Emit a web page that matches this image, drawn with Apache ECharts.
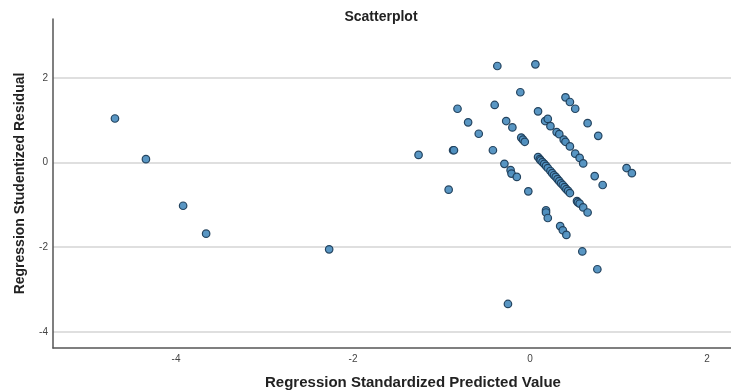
<!DOCTYPE html>
<html>
<head>
<meta charset="utf-8">
<script src="https://cdn.jsdelivr.net/npm/echarts@6/dist/echarts.min.js"></script>
<style>
  html, body { margin: 0; padding: 0; background: #fff; }
  #chart { width: 731px; height: 392px; }
</style>
</head>
<body>
<div id="chart"></div>
<script>
// standardized predicted value (x) / studentized residual (y)
const predicted = [
  -4.69, -4.34, -3.92, -3.66, -2.27,
  -1.26, -0.92, -0.87, -0.86, -0.82, -0.70, -0.58, -0.42, -0.40, -0.37,
  -0.29, -0.27, -0.25, -0.22, -0.21, -0.20, -0.15, -0.11, -0.10, -0.08, -0.06, -0.02,
  0.06, 0.09, 0.17, 0.18, 0.18, 0.20, 0.20, 0.23,
  0.09, 0.11, 0.12, 0.14, 0.16, 0.18, 0.20, 0.23, 0.25, 0.27, 0.29, 0.31,
  0.33, 0.35, 0.37, 0.39, 0.41, 0.43, 0.45,
  0.30, 0.33, 0.38, 0.40, 0.45, 0.34, 0.37, 0.41,
  0.40, 0.45, 0.51, 0.51, 0.56, 0.60,
  0.53, 0.54, 0.56, 0.60, 0.65, 0.59, 0.76,
  0.65, 0.77, 0.73, 0.82, 1.09, 1.15
];
const residual = [
  1.04, 0.08, -1.02, -1.68, -2.05,
  0.18, -0.64, 0.29, 0.29, 1.27, 0.95, 0.68, 0.29, 1.36, 2.28,
  -0.03, 0.98, -3.34, -0.18, -0.26, 0.83, -0.34, 1.66, 0.59, 0.54, 0.49, -0.68,
  2.32, 1.21, 0.98, -1.13, -1.18, 1.03, -1.31, 0.86,
  0.13, 0.08, 0.05, 0.01, -0.03, -0.08, -0.13, -0.20, -0.25, -0.30, -0.34, -0.39,
  -0.44, -0.49, -0.53, -0.58, -0.63, -0.67, -0.72,
  0.72, 0.67, 0.54, 0.49, 0.38, -1.50, -1.60, -1.71,
  1.54, 1.43, 1.27, 0.21, 0.11, -0.02,
  -0.91, -0.94, -0.97, -1.06, -1.18, -2.10, -2.52,
  0.93, 0.63, -0.32, -0.53, -0.13, -0.25
];
const xTicks = [-4, -2, 0, 2];
const yTicks = [-4, -2, 0, 2];

const chart = echarts.init(document.getElementById('chart'));

const font = 'Liberation Sans, Arial, sans-serif';

chart.setOption({
  animation: false,
  title: {
    text: 'Scatterplot',
    left: 376,
    top: 5,
    textAlign: 'center',
    textStyle: { fontFamily: font, fontSize: 14, fontWeight: 'bold', color: '#222' }
  },
  // keep the plot box fixed; don't let v6 shrink it to fit the axis names
  grid: { left: 53, right: 0, top: 19, bottom: 44, outerBoundsMode: 'none' },
  xAxis: {
    type: 'value',
    min: -5.39,
    max: 2.27,
    name: 'Regression Standardized Predicted Value',
    nameLocation: 'middle',
    nameGap: 27,
    // the original plot ran past the right edge, so its title sits right of centre
    nameTextStyle: { fontFamily: font, fontSize: 15, fontWeight: 'bold', color: '#222', padding: [0, 0, 0, 42] },
    axisLine: { onZero: false, lineStyle: { color: '#555', width: 1.5 } },
    axisTick: { show: false },
    splitLine: { show: false },
    axisLabel: {
      customValues: xTicks,
      fontFamily: font, fontSize: 10, color: '#444', margin: 6
    }
  },
  yAxis: {
    type: 'value',
    min: -4.38,
    max: 3.39,
    name: 'Regression Studentized Residual',
    nameLocation: 'middle',
    nameGap: 26,
    nameTextStyle: { fontFamily: font, fontSize: 14, fontWeight: 'bold', color: '#222' },
    axisLine: { onZero: false, lineStyle: { color: '#555', width: 1.5 } },
    axisTick: { show: false, customValues: yTicks },
    splitLine: { show: true, lineStyle: { color: '#d4d4d4', width: 1.5 } },
    axisLabel: {
      customValues: yTicks,
      fontFamily: font, fontSize: 10, color: '#444', margin: 5
    }
  },
  series: [{
    type: 'scatter',
    symbolSize: 7.5,
    itemStyle: { color: '#5090c0', borderColor: '#1d3d58', borderWidth: 1.2, opacity: 0.95 },
    data: predicted.map((x, i) => [x, residual[i]])
  }]
});
</script>
</body>
</html>
